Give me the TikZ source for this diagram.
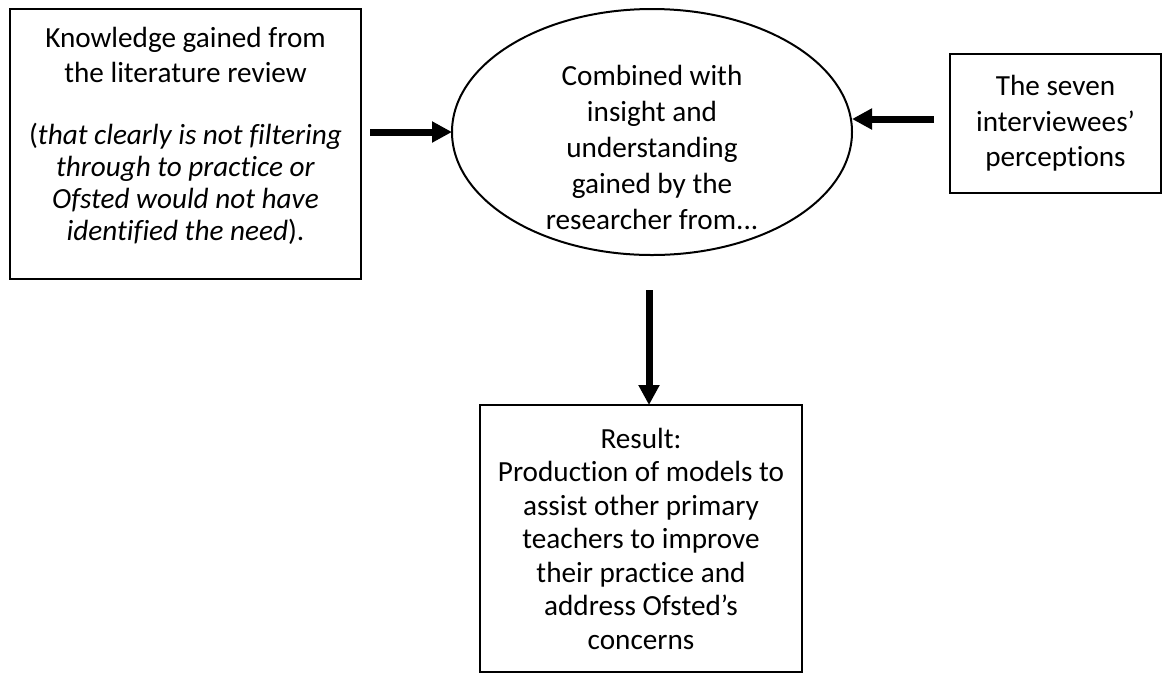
\documentclass[tikz,border=0pt]{standalone}
\usepackage{fontspec}
\setmainfont{Carlito}[Ligatures={NoCommon}]
\usetikzlibrary{arrows.meta,shapes.geometric}

\begin{document}
\begin{tikzpicture}[x=0.5pt,y=-0.5pt,
  box/.style={draw,line width=1.1pt,inner sep=0pt,outer sep=0pt},
  txt/.style={align=center,inner sep=0pt,font=\fontsize{14.6}{17.8}\selectfont},
  flow/.style={line width=3.5pt,-{Triangle[length=10pt,width=10pt]}}]
  \useasboundingbox (0,0) rectangle (1163,677);
  % the three sources
  \node[box,minimum width=175.5pt,minimum height=135pt] (lit) at (185.5,144) {};
  \node[txt] (littext) at (185.5,135.5)
    {Knowledge gained from\\the literature review\\[13.2pt]
     (\textit{that clearly is not filtering}\\[-1.9pt]
     \textit{through to practice or}\\[-1.9pt]
     \textit{Ofsted would not have}\\[-1.9pt]
     \textit{identified the need}).};
  \node[box,shape=ellipse,line width=1pt,minimum width=200pt,minimum height=123pt] (ell) at (652,132) {};
  \node[txt,font=\fontsize{14.6}{18.1}\selectfont] (elltext) at (652,147.5)
    {Combined with\\insight and\\understanding\\gained by the\\researcher from...};
  \node[box,txt,draw,minimum width=105.5pt,minimum height=69.5pt] (views) at (1055.5,123.5)
    {The seven\\interviewees’\\perceptions};
  % the outcome
  \node[box,txt,draw,font=\fontsize{14.6}{16.75}\selectfont,minimum width=161pt,minimum height=133.5pt] (res) at (641,538.5)
    {Result:\\Production of models to\\assist other primary\\teachers to improve\\their practice and\\address Ofsted’s\\concerns};
  % connectors
  \coordinate (litout) at (370,132);
  \coordinate (viewsout) at (934,119);
  \coordinate (ellout) at (649,290);
  \draw[flow] (litout) -- (ell.west);
  \draw[flow] (viewsout) -- (viewsout -| ell.east);
  \draw[flow] (ellout) -- (ellout |- res.north);
\end{tikzpicture}
\end{document}
